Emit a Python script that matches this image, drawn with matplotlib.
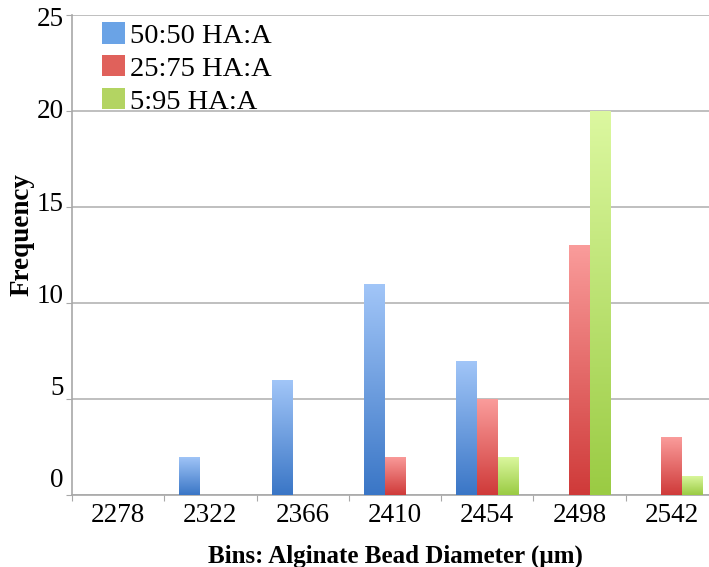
import matplotlib
matplotlib.use('Agg')
import matplotlib.pyplot as plt
import numpy as np
from matplotlib.colors import LinearSegmentedColormap

plt.rcParams['font.family'] = ['Liberation Serif', 'DejaVu Serif']

bins = ['2278', '2322', '2366', '2410', '2454', '2498', '2542']
freq_50_50 = [0, 2, 6, 11, 7, 0, 0]
freq_25_75 = [0, 0, 0, 2, 5, 13, 3]
freq_5_95 = [0, 0, 0, 0, 2, 20, 1]
series_labels = ['50:50 HA:A', '25:75 HA:A', '5:95 HA:A']
yticks = [0, 5, 10, 15, 20, 25]

# (legend colour, top of bar, bottom of bar)
palette = [
    ('#6aa3e6', '#a2c6f8', '#3a76c6'),
    ('#e0615b', '#fa9c9b', '#cf3a39'),
    ('#b3d462', '#dcf8a0', '#9acb43'),
]

fig = plt.figure(figsize=(7.09, 5.67), dpi=100)
ax = fig.add_axes([72 / 709, 72 / 567, 646 / 709, 480 / 567])

x = np.arange(len(bins))
width = 0.225
all_series = [freq_50_50, freq_25_75, freq_5_95]
grad = np.linspace(0, 1, 256).reshape(-1, 1)

handles = []
for i, (vals, (face, top, bottom)) in enumerate(zip(all_series, palette)):
    bars = ax.bar(x + (i - 1) * width, vals, width, color=face,
                  label=series_labels[i], zorder=2, linewidth=0)
    handles.append(bars)
    cmap = LinearSegmentedColormap.from_list('g%d' % i, [bottom, top])
    for b in bars:
        h = b.get_height()
        if h <= 0:
            continue
        x0 = b.get_x()
        im = ax.imshow(grad, cmap=cmap, aspect='auto', origin='lower',
                       extent=(x0, x0 + b.get_width(), 0, h), zorder=3)
        im.set_clip_path(b)

ax.set_xlim(-0.5, len(bins) - 0.5)
ax.set_ylim(0, 25)

# gridlines and frame
ax.set_yticks(yticks)
ax.yaxis.grid(True, color='#b4b4b4', linewidth=1.2, zorder=0)
ax.set_axisbelow(True)
for side in ['top', 'right']:
    ax.spines[side].set_visible(False)
for side in ['left', 'bottom']:
    ax.spines[side].set_color('#a8a8a8')
    ax.spines[side].set_linewidth(1.2)
ax.tick_params(axis='y', length=4, color='#a8a8a8', labelleft=False)

# category ticks sit between groups, labels at group centres
ax.set_xticks(np.arange(len(bins) + 1) - 0.5)
ax.set_xticklabels([])
ax.set_xticks(x, minor=True)
ax.set_xticklabels(bins, minor=True, fontsize=19.5)
ax.tick_params(axis='x', which='major', length=4, color='#a8a8a8')
ax.tick_params(axis='x', which='minor', length=0, pad=6)

for v in yticks:
    ax.text(-0.59, v * 0.96 + 0.75, str(v), ha='right', va='center',
            fontsize=19.5, transform=ax.transData)

ax.set_xlabel('Bins: Alginate Bead Diameter (µm)', fontsize=18,
              fontweight='bold', labelpad=12)
fig.text(0.031, 0.587, 'Frequency', rotation=90, fontsize=19.5,
         fontweight='bold', ha='center', va='center')

ax.legend(handles=handles, loc='upper left', bbox_to_anchor=(0.047, 0.985),
          frameon=False, fontsize=20.5, handlelength=0.78, handleheight=0.78,
          handletextpad=0.2, labelspacing=0.22, borderpad=0, borderaxespad=0)

fig.savefig('out.png', dpi=100)
